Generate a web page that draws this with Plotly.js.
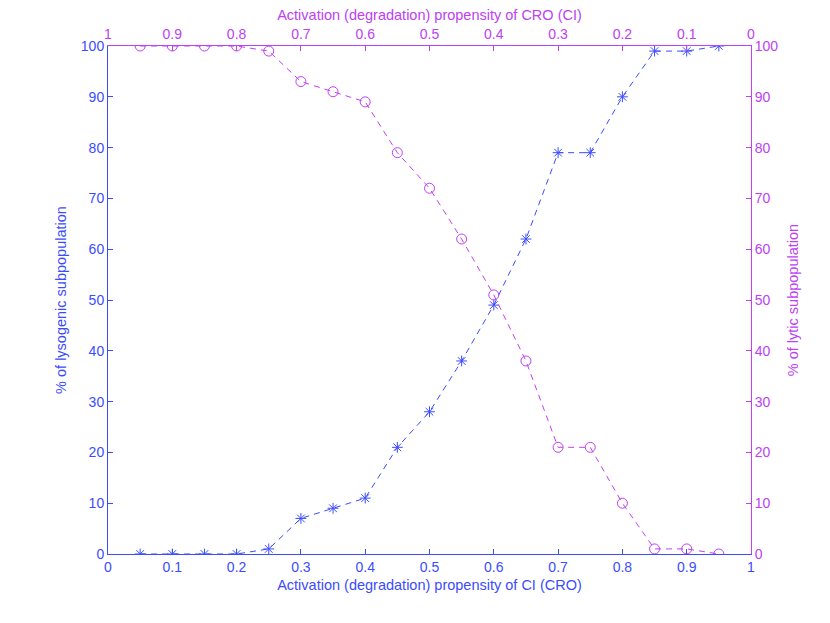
<!DOCTYPE html>
<html><head><meta charset="utf-8">
<script src="https://cdn.plot.ly/plotly-3.0.1.min.js"></script>
<style>html,body{margin:0;padding:0;background:#fff}</style>
</head><body><div id="chart" style="width:830px;height:623px"></div>
<script>
const ciPropensity = [0.05,0.1,0.15,0.2,0.25,0.3,0.35,0.4,0.45,0.5,0.55,0.6,0.65,0.7,0.75,0.8,0.85,0.9,0.95];
const lysogenic = [0,0,0,0,1,7,9,11,21,28,38,49,62,79,79,90,99,99,100];
const croPropensity = [0.95,0.9,0.85,0.8,0.75,0.7,0.65,0.6,0.55,0.5,0.45,0.4,0.35,0.3,0.25,0.2,0.15,0.1,0.05];
const lytic = [100,100,100,100,99,93,91,89,79,72,62,51,38,21,21,10,1,1,0];
const tickVals = [0,0.1,0.2,0.3,0.4,0.5,0.6,0.7,0.8,0.9,1];
const tickText = ['0','0.1','0.2','0.3','0.4','0.5','0.6','0.7','0.8','0.9','1'];

const blue = 'rgb(59,76,255)';
const mag = 'rgb(192,64,245)';
const fam = 'Liberation Sans, Arial, sans-serif';
const tickSize = 14;
const titleSize = 14.5;

const traces = [
  {x: ciPropensity, y: lysogenic, xaxis:'x', yaxis:'y', mode:'lines+markers',
   line:{color:blue, width:1, dash:'6px,5px'},
   marker:{symbol:'asterisk-open', size:9, color:blue, line:{color:blue, width:1}}},
  {x: croPropensity, y: lytic, xaxis:'x2', yaxis:'y2', mode:'lines+markers',
   line:{color:mag, width:1, dash:'6px,5px'},
   marker:{symbol:'circle-open', size:10, color:mag, line:{color:mag, width:1}}}
];

const common = {showgrid:false, zeroline:false, showline:true, ticks:'inside', ticklen:5, tickwidth:1};
const layout = {
  width:830, height:623, showlegend:false,
  paper_bgcolor:'#fff', plot_bgcolor:'#fff',
  margin:{l:108, r:79, t:46, b:69},
  font: {family:fam, size:tickSize},
  xaxis: Object.assign({}, common, {range:[0,1], tickvals:tickVals, ticktext:tickText, linecolor:blue, tickcolor:blue,
    tickfont:{color:blue, size:tickSize, family:fam}, side:'bottom', anchor:'y',
    title:{text:'Activation (degradation) propensity of CI (CRO)', font:{color:blue, size:titleSize, family:fam}, standoff:6}}),
  xaxis2: Object.assign({}, common, {range:[1,0], tickvals:tickVals, ticktext:tickText, linecolor:mag, tickcolor:mag,
    tickfont:{color:mag, size:tickSize, family:fam}, side:'top', overlaying:'x', anchor:'y',
    title:{text:'Activation (degradation) propensity of CRO (CI)', font:{color:mag, size:titleSize, family:fam}, standoff:2}}),
  yaxis: Object.assign({}, common, {range:[0,100], dtick:10, linecolor:blue, tickcolor:blue,
    tickfont:{color:blue, size:tickSize, family:fam}, side:'left',
    title:{text:'% of lysogenic subpopulation', font:{color:blue, size:titleSize, family:fam}, standoff:10}}),
  yaxis2: Object.assign({}, common, {range:[0,100], dtick:10, linecolor:mag, tickcolor:mag,
    tickfont:{color:mag, size:tickSize, family:fam}, side:'right', overlaying:'y', anchor:'x',
    title:{text:'% of lytic subpopulation', font:{color:mag, size:titleSize, family:fam}, standoff:10}})
};
Plotly.newPlot('chart', traces, layout, {displayModeBar:false, staticPlot:true});
</script></body></html>
